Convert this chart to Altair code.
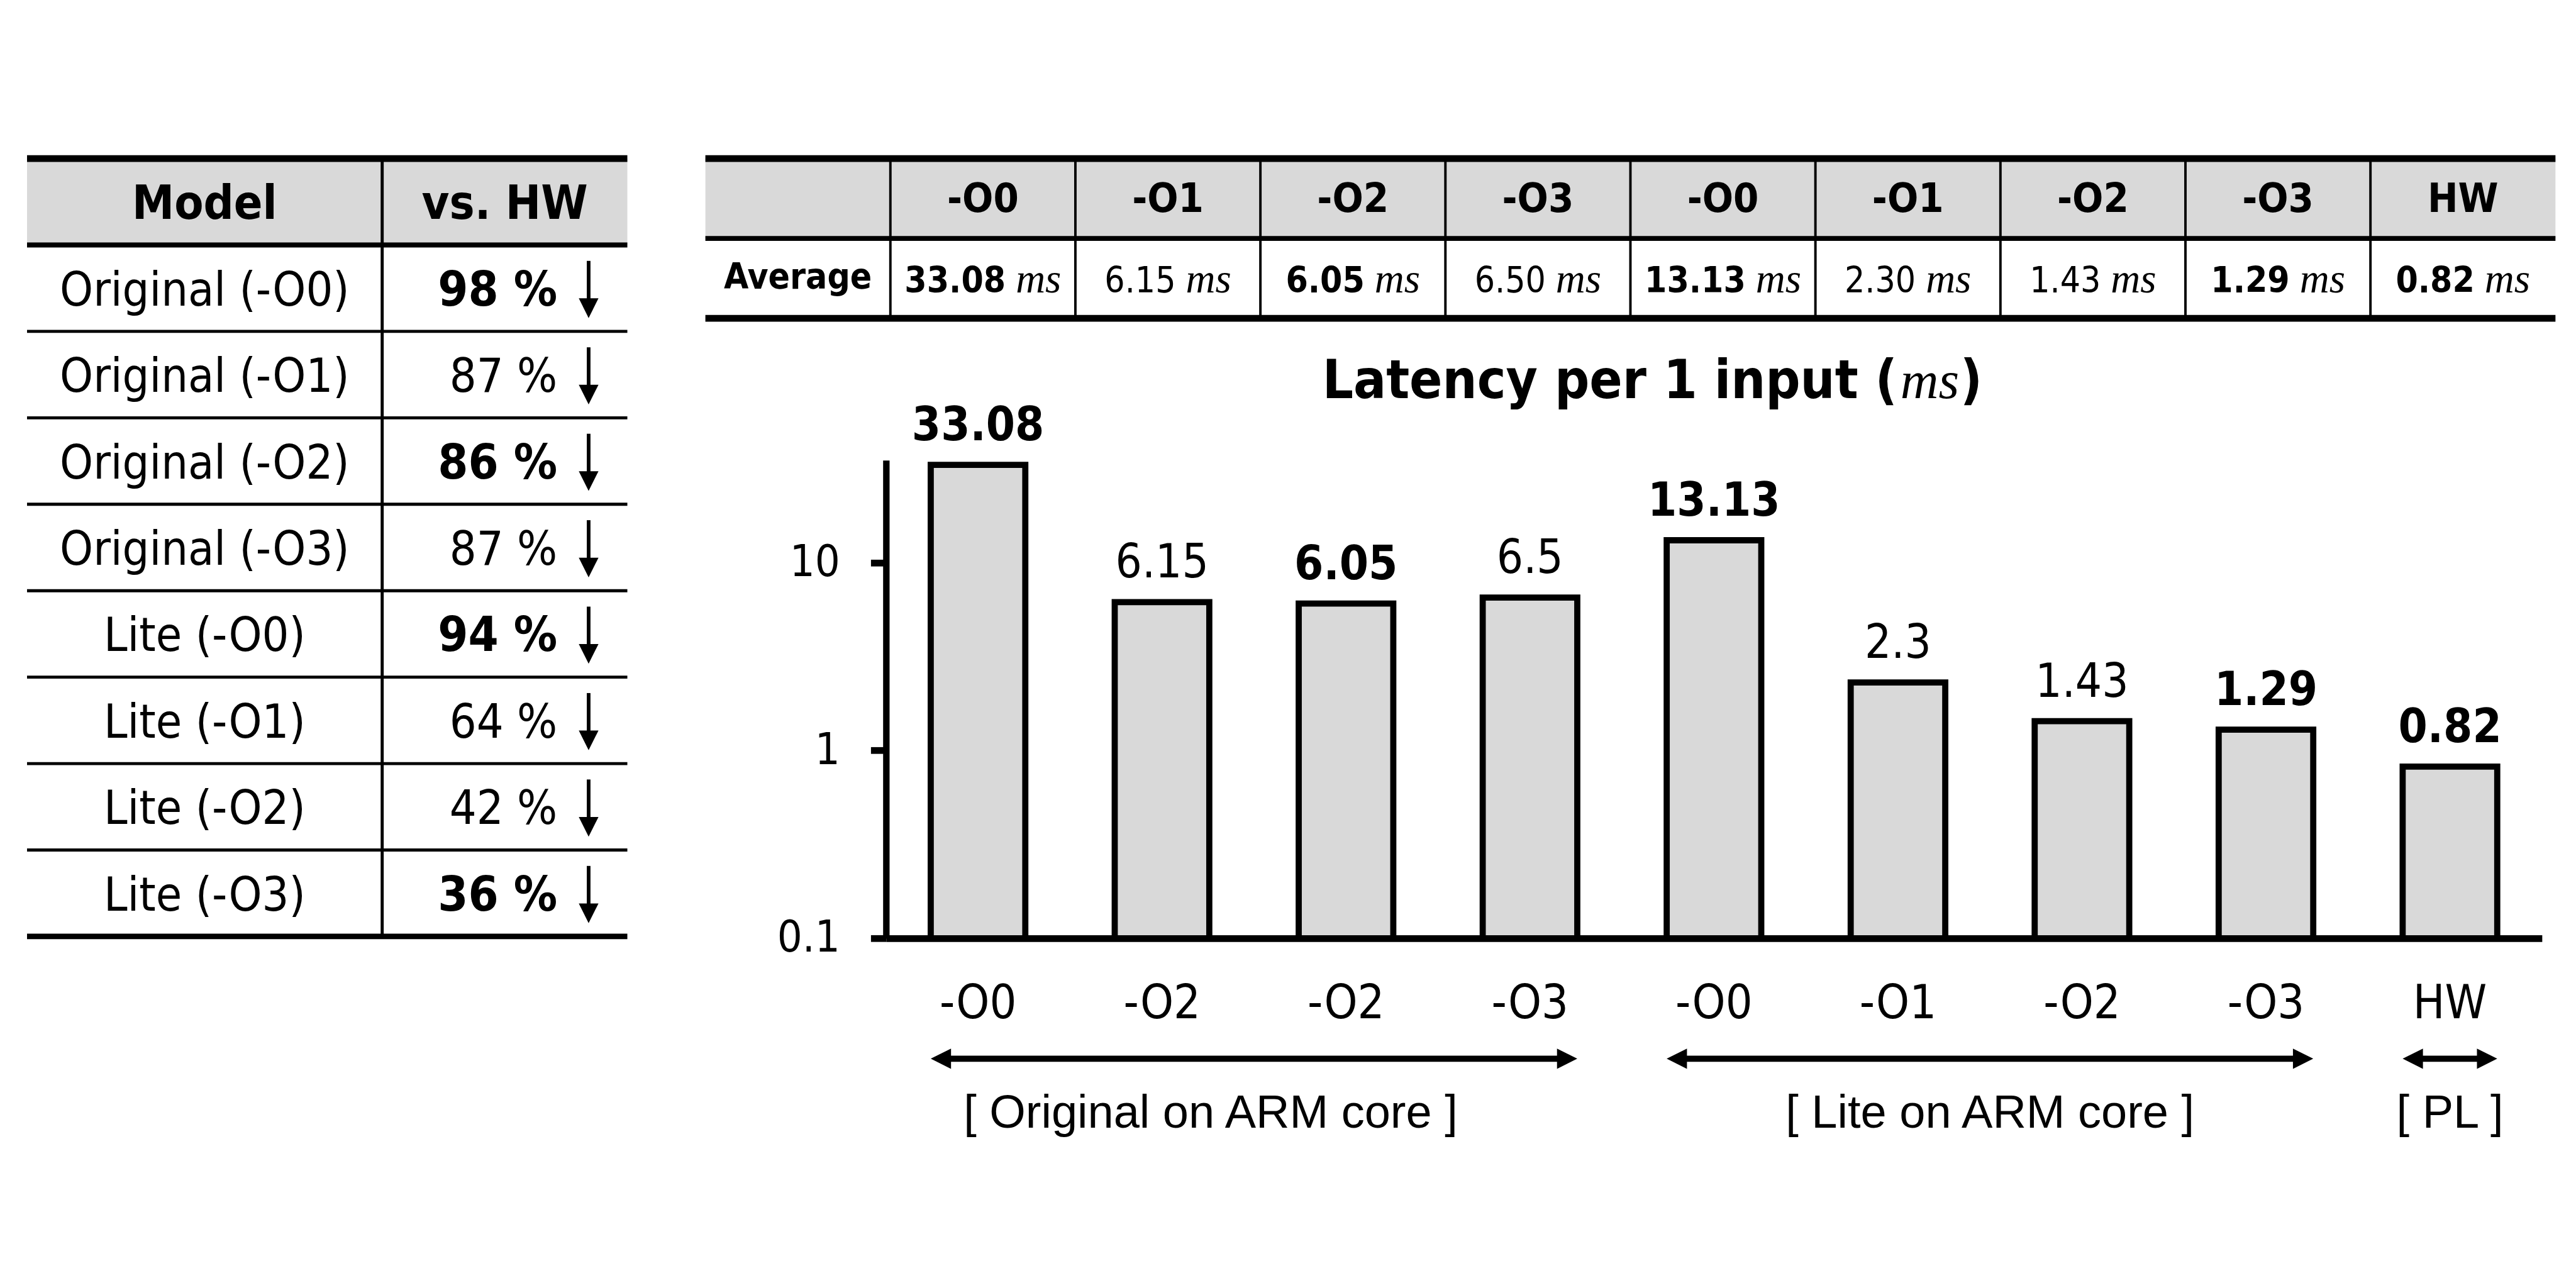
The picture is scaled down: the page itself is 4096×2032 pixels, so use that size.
import altair as alt
import pandas as pd

S = 0.977  # reference -> output scale
SANS = "DejaVu Sans Condensed, DejaVu Sans"
ARIAL = "Liberation Sans, Arial"
SERIF = "Liberation Serif, DejaVu Serif"
GRAY = "#d9d9d9"
INK = "#000000"

# ---------------- data ----------------
models = ["Original (-O0)", "Original (-O1)", "Original (-O2)", "Original (-O3)",
          "Lite (-O0)", "Lite (-O1)", "Lite (-O2)", "Lite (-O3)"]
vs_hw_pct = [98, 87, 86, 87, 94, 64, 42, 36]
vs_hw_bold = [True, False, True, False, True, False, False, True]

table_headers = ["-O0", "-O1", "-O2", "-O3", "-O0", "-O1", "-O2", "-O3", "HW"]
avg_ms = ["33.08", "6.15", "6.05", "6.50", "13.13", "2.30", "1.43", "1.29", "0.82"]
avg_bold = [True, False, True, False, True, False, False, True, True]

bar_ticks = ["-O0", "-O2", "-O2", "-O3", "-O0", "-O1", "-O2", "-O3", "HW"]
latency = [33.08, 6.15, 6.05, 6.5, 13.13, 2.3, 1.43, 1.29, 0.82]
latency_text = ["33.08", "6.15", "6.05", "6.5", "13.13", "2.3", "1.43", "1.29", "0.82"]
latency_bold = [True, False, True, False, True, False, False, True, True]

group_names = ["[ Original on ARM core ]", "[ Lite on ARM core ]", "[ PL ]"]
group_first = [0, 4, 8]
group_last = [3, 7, 8]

title_main = "Latency per 1 input ("
title_unit = "ms"
title_close = ")"

Y_MIN, Y_MAX = 0.1, 35

# ---------------- layout (reference pixels) ----------------
X0, Y0, X1, Y1 = 1442, 749, 4137, 1527  # bar plot area
W = (X1 - X0) * S
H = (Y1 - Y0) * S


def rx(v):
    return (v - X0) * S


def ry(v):
    return (v - Y0) * S


def qx(field, scale):
    return alt.X(field, type="quantitative", scale=scale, axis=None)


def qy(field, scale):
    return alt.Y(field, type="quantitative", scale=scale, axis=None)


# ================= left table =================
lt_x = alt.Scale(domain=[0, 1], range=[rx(44), rx(1021)], nice=False, zero=False)
lt_y = alt.Scale(domain=[0, 9], range=[ry(258), ry(1524)], nice=False, zero=False)
SPLIT = (622 - 44) / 977
PCT_RIGHT = (907 - 44) / 977
ARROW_X = (958 - 44) / 977
FS_LT = 75
BASE_OFF = 0.2

lt_rect = alt.Chart(pd.DataFrame({"x0": [0.0], "x1": [1.0], "y0": [0.0], "y1": [1.0]})).mark_rect(
    fill=GRAY).encode(x=qx("x0", lt_x), x2=alt.X2("x1"), y=qy("y0", lt_y), y2=alt.Y2("y1"))

lt_hlines_df = pd.DataFrame({"y": list(range(10)),
                             "w": [v * S for v in [11, 8, 5, 5, 5, 5, 5, 5, 5, 9]],
                             "x0": 0.0, "x1": 1.0})
lt_hlines = alt.Chart(lt_hlines_df).mark_rule(color=INK).encode(
    x=qx("x0", lt_x), x2=alt.X2("x1"), y=qy("y", lt_y),
    strokeWidth=alt.StrokeWidth("w:Q", scale=None, legend=None))

lt_vline = alt.Chart(pd.DataFrame({"x": [SPLIT], "y0": [0.0], "y1": [9.0]})).mark_rule(
    color=INK, strokeWidth=5 * S).encode(x=qx("x", lt_x), y=qy("y0", lt_y), y2=alt.Y2("y1"))

lt_head_df = pd.DataFrame({"t": ["Model", "vs. HW"], "x": [SPLIT / 2, (SPLIT + 1) / 2],
                           "y": [0.5 + BASE_OFF] * 2})
lt_head = alt.Chart(lt_head_df).mark_text(font=SANS, fontSize=FS_LT, fontWeight="bold",
                                          baseline="alphabetic", align="center", color=INK).encode(
    x=qx("x", lt_x), y=qy("y", lt_y), text="t:N")

lt_body_df = pd.DataFrame({
    "model": models,
    "pct": [f"{v} %" for v in vs_hw_pct],
    "bold": vs_hw_bold,
    "row": list(range(1, 9)),
})
lt_body_df["yb"] = lt_body_df["row"] + 0.5 + BASE_OFF
lt_body_df["xm"] = SPLIT / 2
lt_body_df["xp"] = PCT_RIGHT
lt_body_df["xa"] = ARROW_X
lt_body_df["ya0"] = lt_body_df["row"] + 0.5 - 0.316
lt_body_df["ya1"] = lt_body_df["row"] + 0.5 + 0.2
lt_body_df["yt"] = lt_body_df["row"] + 0.5 + 0.345

lt_models = alt.Chart(lt_body_df).mark_text(font=SANS, fontSize=FS_LT, baseline="alphabetic",
                                            align="center", color=INK).encode(
    x=qx("xm", lt_x), y=qy("yb", lt_y), text="model:N")
lt_pct_b = alt.Chart(lt_body_df).transform_filter("datum.bold").mark_text(
    font=SANS, fontSize=FS_LT + 2, fontWeight="bold", baseline="alphabetic", align="right", color=INK).encode(
    x=qx("xp", lt_x), y=qy("yb", lt_y), text="pct:N")
lt_pct_n = alt.Chart(lt_body_df).transform_filter("!datum.bold").mark_text(
    font=SANS, fontSize=FS_LT, baseline="alphabetic", align="right", color=INK).encode(
    x=qx("xp", lt_x), y=qy("yb", lt_y), text="pct:N")
lt_shaft = alt.Chart(lt_body_df).mark_rule(color=INK, strokeWidth=6 * S).encode(
    x=qx("xa", lt_x), y=qy("ya0", lt_y), y2=alt.Y2("ya1"))
lt_head_arrow = alt.Chart(lt_body_df).mark_point(
    shape="M0,0 L-1,-2 L1,-2 Z", filled=True, fill=INK, strokeWidth=0, opacity=1,
    size=(32 * S) ** 2).encode(x=qx("xa", lt_x), y=qy("yt", lt_y))

left_layer = alt.layer(lt_rect, lt_hlines, lt_vline, lt_head, lt_models, lt_pct_b, lt_pct_n,
                       lt_shaft, lt_head_arrow)

# ================= right table =================
rt_x = alt.Scale(domain=[0, 10], range=[rx(1148), rx(4159)], nice=False, zero=False)
rt_y = alt.Scale(domain=[0, 2], range=[ry(258), ry(518)], nice=False, zero=False)
FS_RH = 64.5
FS_VAL = 56.5
FS_MS = 65
COL_PX = 301.1 * S

rt_rect = alt.Chart(pd.DataFrame({"x0": [0.0], "x1": [10.0], "y0": [0.0], "y1": [1.0]})).mark_rect(
    fill=GRAY).encode(x=qx("x0", rt_x), x2=alt.X2("x1"), y=qy("y0", rt_y), y2=alt.Y2("y1"))
rt_hlines = alt.Chart(pd.DataFrame({"y": [0, 1, 2], "w": [11 * S, 8 * S, 11 * S],
                                    "x0": 0.0, "x1": 10.0})).mark_rule(color=INK).encode(
    x=qx("x0", rt_x), x2=alt.X2("x1"), y=qy("y", rt_y),
    strokeWidth=alt.StrokeWidth("w:Q", scale=None, legend=None))
rt_vlines = alt.Chart(pd.DataFrame({"x": list(range(1, 10)), "y0": 0.0, "y1": 2.0})).mark_rule(
    color=INK, strokeWidth=4 * S).encode(x=qx("x", rt_x), y=qy("y0", rt_y), y2=alt.Y2("y1"))

rt_head_df = pd.DataFrame({"t": table_headers, "x": [i + 1.5 for i in range(9)], "y": 0.67})
rt_head = alt.Chart(rt_head_df).mark_text(font=SANS, fontSize=FS_RH, fontWeight="bold",
                                          baseline="alphabetic", align="center", color=INK).encode(
    x=qx("x", rt_x), y=qy("y", rt_y), text="t:N")
rt_avg = alt.Chart(pd.DataFrame({"t": ["Average"], "x": [0.5], "y": [1.63]})).mark_text(
    font=SANS, fontSize=FS_VAL, fontWeight="bold", baseline="alphabetic", align="center", color=INK).encode(
    x=qx("x", rt_x), y=qy("y", rt_y), text="t:N")


def num_width(s, bold, fs):
    w = 0.0
    for ch in s:
        if ch == ".":
            w += 0.342 if bold else 0.286
        else:
            w += 0.626 if bold else 0.572
    return w * fs


GAP = 16
MS_W = 1.111 * FS_MS
xn, xm = [], []
for i, (s, b) in enumerate(zip(avg_ms, avg_bold)):
    wn = num_width(s, b, FS_VAL)
    total = wn + GAP + MS_W
    c = i + 1.5
    nr = c + (-total / 2 + wn) / COL_PX
    xn.append(nr)
    xm.append(nr + GAP / COL_PX)
rt_val_df = pd.DataFrame({"v": avg_ms, "bold": avg_bold, "xn": xn, "xm": xm, "y": 1.68, "u": "ms"})
rt_val_b = alt.Chart(rt_val_df).transform_filter("datum.bold").mark_text(
    font=SANS, fontSize=FS_VAL, fontWeight="bold", baseline="alphabetic", align="right", color=INK).encode(
    x=qx("xn", rt_x), y=qy("y", rt_y), text="v:N")
rt_val_n = alt.Chart(rt_val_df).transform_filter("!datum.bold").mark_text(
    font=SANS, fontSize=FS_VAL, baseline="alphabetic", align="right", color=INK).encode(
    x=qx("xn", rt_x), y=qy("y", rt_y), text="v:N")
rt_unit = alt.Chart(rt_val_df).mark_text(
    font=SERIF, fontSize=FS_MS, fontStyle="italic", baseline="alphabetic", align="left", color=INK).encode(
    x=qx("xm", rt_x), y=qy("y", rt_y), text="u:N")

right_layer = alt.layer(rt_rect, rt_hlines, rt_vlines, rt_head, rt_avg, rt_val_b, rt_val_n, rt_unit)

# ================= bar chart =================
keys = [f"{i}|{t}" for i, t in enumerate(bar_ticks)]
bar_df = pd.DataFrame({"key": keys, "latency": latency, "text": latency_text, "bold": latency_bold})

x_axis = alt.Axis(title=None, labelExpr="split(datum.value, '|')[1]", labelAngle=0,
                  labelFont=SANS, labelFontSize=75, labelColor=INK, labelPadding=68,
                  labelBaseline="top", ticks=False, tickSize=0, domainColor=INK,
                  domainWidth=11 * S, grid=False)
y_axis = alt.Axis(title=None, values=[0.1, 1, 10], format="~g", labelFont=SANS,
                  labelFontSize=70, labelColor=INK, labelPadding=49, tickSize=25 * S,
                  tickWidth=11 * S, tickColor=INK, domainColor=INK, domainWidth=10.5 * S,
                  grid=False)
xb = alt.X("key:N", sort=keys, title=None,
           scale=alt.Scale(domain=keys, paddingInner=0.486, paddingOuter=0.243), axis=x_axis)
yb = alt.Y("latency:Q", title=None,
           scale=alt.Scale(type="log", domain=[Y_MIN, Y_MAX], nice=False), axis=y_axis)

bars = alt.Chart(bar_df).transform_calculate(floor=str(Y_MIN)).mark_bar(
    fill=GRAY, stroke=INK, strokeWidth=10 * S).encode(x=xb, y=yb, y2=alt.Y2("floor:Q"))
bar_lab_b = alt.Chart(bar_df).transform_filter("datum.bold").mark_text(
    font=SANS, fontSize=74, fontWeight="bold", baseline="alphabetic", dy=-39, color=INK).encode(
    x=xb, y=yb, text="text:N")
bar_lab_n = alt.Chart(bar_df).transform_filter("!datum.bold").mark_text(
    font=SANS, fontSize=74, baseline="alphabetic", dy=-39, color=INK).encode(
    x=xb, y=yb, text="text:N")

bar_layer = alt.layer(bars, bar_lab_b, bar_lab_n)

# ================= group arrows, labels and title =================
PAD = 0.486 / 2
INSET = 15 / 299.4
gx = alt.Scale(domain=[0, 9], range=[0, W], nice=False, zero=False)
g_df = pd.DataFrame({"name": group_names, "first": group_first, "last": group_last})
g_base = alt.Chart(g_df).transform_calculate(
    start=f"datum.first + {PAD}",
    end=f"datum['last'] + 1 - {PAD}",
    s0=f"datum.first + {PAD + INSET}",
    s1=f"datum['last'] + 1 - {PAD + INSET}",
    mid="(datum.first + datum['last'] + 1) / 2",
)
ARROW_Y = ry(1723)
g_shaft = g_base.mark_rule(color=INK, strokeWidth=10 * S).encode(
    x=qx("s0", gx), x2=alt.X2("s1"), y=alt.value(ARROW_Y))
HEAD = (33 * S) ** 2
g_left = g_base.mark_point(shape="M0,0 L2,-1 L2,1 Z", filled=True, fill=INK, strokeWidth=0,
                           opacity=1, size=HEAD).encode(x=qx("start", gx), y=alt.value(ARROW_Y))
g_right = g_base.mark_point(shape="M0,0 L-2,-1 L-2,1 Z", filled=True, fill=INK, strokeWidth=0,
                            opacity=1, size=HEAD).encode(x=qx("end", gx), y=alt.value(ARROW_Y))
LABEL_Y = ry(1813)
FS_GRP = 74
g_lab_first = g_base.transform_filter("datum.first == 0").mark_text(
    font=ARIAL, fontSize=FS_GRP, baseline="middle", align="center", color=INK, dx=-69).encode(
    x=qx("mid", gx), y=alt.value(LABEL_Y), text="name:N")
g_lab_rest = g_base.transform_filter("datum.first != 0").mark_text(
    font=ARIAL, fontSize=FS_GRP, baseline="middle", align="center", color=INK).encode(
    x=qx("mid", gx), y=alt.value(LABEL_Y), text="name:N")

TITLE_Y = ry(648)
t_main = alt.Chart(pd.DataFrame({"t": [title_main]})).mark_text(
    font=SANS, fontSize=86, fontWeight="bold", baseline="alphabetic", align="right", color=INK).encode(
    x=alt.value(rx(3088)), y=alt.value(TITLE_Y), text="t:N")
t_unit = alt.Chart(pd.DataFrame({"t": [title_unit]})).mark_text(
    font=SERIF, fontSize=84, fontStyle="italic", baseline="alphabetic", align="left", color=INK).encode(
    x=alt.value(rx(3093)), y=alt.value(TITLE_Y), text="t:N")
t_close = alt.Chart(pd.DataFrame({"t": [title_close]})).mark_text(
    font=SANS, fontSize=86, fontWeight="bold", baseline="alphabetic", align="left", color=INK).encode(
    x=alt.value(rx(3190)), y=alt.value(TITLE_Y), text="t:N")

group_layer = alt.layer(g_shaft, g_left, g_right, g_lab_first, g_lab_rest, t_main, t_unit, t_close)

# ================= compose =================
PAD_L = X0 * S
PAD_T = Y0 * S
PAD_R = 4096 - PAD_L - W
PAD_B = 2032 - PAD_T - H

chart = alt.layer(left_layer, right_layer, bar_layer, group_layer).resolve_scale(
    x="independent", y="independent"
).properties(
    width=W, height=H,
    padding={"left": PAD_L, "top": PAD_T, "right": PAD_R, "bottom": PAD_B},
    autosize=alt.AutoSizeParams(type="none"),
    background="white",
).configure_view(stroke=None)

chart.save("out.html", embed_options={"renderer": "svg", "actions": False})
